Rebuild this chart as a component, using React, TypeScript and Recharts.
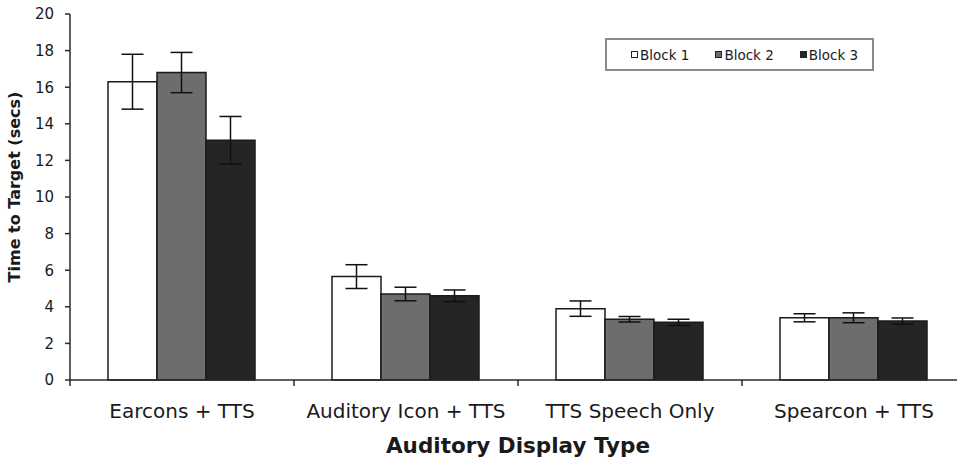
import React from "react";
import { BarChart, Bar, XAxis, YAxis, ErrorBar, Legend } from "recharts";

const categories = ["Earcons + TTS", "Auditory Icon + TTS", "TTS Speech Only", "Spearcon + TTS"];
const block1 = [16.3, 5.65, 3.9, 3.4];
const block1Err = [1.5, 0.65, 0.42, 0.22];
const block2 = [16.8, 4.7, 3.32, 3.4];
const block2Err = [1.1, 0.37, 0.15, 0.27];
const block3 = [13.1, 4.6, 3.15, 3.22];
const block3Err = [1.3, 0.32, 0.17, 0.17];
const yTicks = [0, 2, 4, 6, 8, 10, 12, 14, 16, 18, 20];
const seriesNames = ["Block 1", "Block 2", "Block 3"];
const seriesColors = ["#ffffff", "#6d6d6d", "#252525"];

const data = categories.map((c, i) => ({
  name: c,
  b1: block1[i],
  e1: block1Err[i],
  b2: block2[i],
  e2: block2Err[i],
  b3: block3[i],
  e3: block3Err[i],
}));

const AXIS = "#2a2a2a";
const FONT = "'DejaVu Sans', Verdana, sans-serif";

const XTick = (props: any) => {
  const { x, y, payload } = props;
  const off = payload && payload.offset != null ? payload.offset : 0;
  return (
    <g>
      <line x1={x - off} x2={x - off} y1={y - 8} y2={y - 2} stroke={AXIS} strokeWidth={1.5} />
      <text x={x} y={y + 30} textAnchor="middle" fontSize={20} fill="#1a1a1a" fontFamily={FONT}>
        {payload.value}
      </text>
    </g>
  );
};

const YLabel = (props: any) => {
  const vb = props.viewBox || { x: 0, y: 0, width: 0, height: 0 };
  const cx = vb.x + 20;
  const cy = vb.y + vb.height / 2 - 10;
  return (
    <text
      x={cx}
      y={cy}
      transform={`rotate(-90, ${cx}, ${cy})`}
      textAnchor="middle"
      fontSize={16}
      fontWeight="bold"
      fill="#1a1a1a"
      fontFamily={FONT}
    >
      Time to Target (secs)
    </text>
  );
};

const XTitle = (props: any) => {
  const vb = props.viewBox || { x: 0, y: 0, width: 0, height: 0 };
  return (
    <text
      x={vb.x + vb.width / 2}
      y={vb.y + 73}
      textAnchor="middle"
      fontSize={21.5}
      fontWeight="bold"
      fill="#1a1a1a"
      fontFamily={FONT}
    >
      Auditory Display Type
    </text>
  );
};

const LegendBox = () => (
  <div
    style={{
      width: 269,
      height: 33,
      boxSizing: "border-box",
      border: "2px solid #8a8a8a",
      background: "#fff",
      display: "flex",
      alignItems: "center",
      paddingLeft: 24,
      gap: 26,
      fontFamily: FONT,
      fontSize: 13.5,
      color: "#1a1a1a",
    }}
  >
    {seriesNames.map((n, i) => (
      <div key={n} style={{ display: "flex", alignItems: "center" }}>
        <span
          style={{
            display: "inline-block",
            width: 7,
            height: 7,
            boxSizing: "border-box",
            border: "1.5px solid #222",
            background: seriesColors[i],
            marginRight: 2,
          }}
        />
        <span>{n}</span>
      </div>
    ))}
  </div>
);

export default function App() {
  return (
    <div
      style={{
        position: "fixed",
        left: 0,
        top: 0,
        width: 957,
        height: 462,
        overflow: "hidden",
        background: "#fff",
        fontFamily: FONT,
      }}
    >
      <BarChart
        width={976}
        height={462}
        data={data}
        margin={{ top: 14, right: 10, bottom: 0, left: 0 }}
        barCategoryGap={38}
        barGap={0}
      >
        <XAxis
          dataKey="name"
          height={82}
          interval={0}
          tickLine={false}
          tickSize={6}
          tickMargin={2}
          axisLine={{ stroke: AXIS, strokeWidth: 1.5 }}
          tick={<XTick />}
          label={<XTitle />}
        />
        <YAxis
          width={70}
          domain={[0, 20]}
          ticks={yTicks}
          interval={0}
          tickSize={5}
          tickMargin={11}
          axisLine={{ stroke: AXIS, strokeWidth: 1.5 }}
          tickLine={{ stroke: AXIS, strokeWidth: 1.5 }}
          tick={{ fontSize: 15, fill: "#1a1a1a", fontFamily: FONT }}
          label={<YLabel />}
        />
        <Legend
          layout="horizontal"
          verticalAlign="middle"
          align="center"
          content={<LegendBox />}
          wrapperStyle={{ position: "absolute", left: 605, top: 38, width: 269, height: 33 }}
        />
        <Bar dataKey="b1" name="Block 1" fill={seriesColors[0]} stroke="#1a1a1a" strokeWidth={1.5} isAnimationActive={false}>
          <ErrorBar dataKey="e1" width={11} stroke="#111" strokeWidth={1.5} direction="y" />
        </Bar>
        <Bar dataKey="b2" name="Block 2" fill={seriesColors[1]} stroke="#1a1a1a" strokeWidth={1.5} isAnimationActive={false}>
          <ErrorBar dataKey="e2" width={11} stroke="#111" strokeWidth={1.5} direction="y" />
        </Bar>
        <Bar dataKey="b3" name="Block 3" fill={seriesColors[2]} stroke="#1a1a1a" strokeWidth={1.5} isAnimationActive={false}>
          <ErrorBar dataKey="e3" width={11} stroke="#111" strokeWidth={1.5} direction="y" />
        </Bar>
      </BarChart>
    </div>
  );
}
